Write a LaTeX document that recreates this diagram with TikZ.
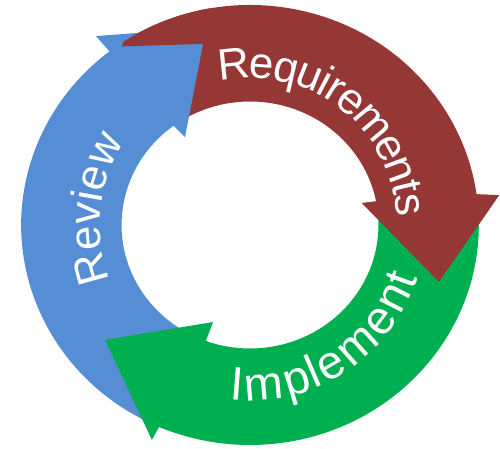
\documentclass[tikz,border=0pt]{standalone}
\usepackage{fontspec}
\newfontfamily\arialf{Liberation Sans}
\usetikzlibrary{decorations.text}
\definecolor{bluec}{HTML}{558ED5}
\definecolor{redc}{HTML}{953735}
\definecolor{greenc}{HTML}{00B050}
\tikzset{
  lbl/.style={decorate, decoration={text along path, text align=center, raise=#1}},
}
\newcommand{\lblfont}[1]{\arialf\fontsize{#1}{#1}\selectfont\color{white}}
\begin{document}
\begin{tikzpicture}
\useasboundingbox (0,0) rectangle (500pt,449pt);
\begin{scope}[shift={(250pt,224pt)}, xscale=1.04]
  % red arrow (Requirements)
  \fill[redc] (125:220pt) arc[start angle=125, end angle=8, radius=220pt]
     -- (7.1:241.3pt) -- (-17.4:190.4pt) -- (11.5:109.9pt) -- (11:123.5pt)
     arc[start angle=11, end angle=125, radius=123.5pt] -- cycle;
  % blue arrow (Review)
  \fill[bluec] (251:220pt) arc[start angle=251, end angle=127.9, radius=220pt]
     -- (128.1:240.1pt) -- (106.4:204.3pt) -- (104:186.6pt) -- (125.4:107.9pt)
     -- (126.5:123.5pt) arc[start angle=126.5, end angle=251, radius=123.5pt] -- cycle;
  % red tail over blue head
  \fill[redc] (124.6:217pt) -- (123.5:220pt) arc[start angle=123.5, end angle=100, radius=220pt]
     -- (104:186.6pt) -- cycle;
  % green arrow (Implement)
  \fill[greenc] (4:220pt) arc[start angle=4, end angle=-113.4, radius=220pt]
     -- (246.3:234.7pt) -- (219.5:180.7pt) -- (249.9:103.3pt) -- (-110.1:123.5pt)
     arc[start angle=-110.1, end angle=4, radius=123.5pt] -- cycle;
  % red head over green tail
  \fill[redc] (8:220pt) -- (7.1:241.3pt) -- (-17.4:190.4pt) -- (11.5:109.9pt) -- (11:123.5pt) -- cycle;
\end{scope}
\begin{scope}[shift={(250pt,224pt)}]
  \path[lbl=-13pt, decoration={text={|\lblfont{44pt}|Requirements}}]
     (122.5:160pt) arc[start angle=122.5, end angle=-17.5, radius=160pt];
  \path[lbl=0pt, decoration={text={|\lblfont{44pt}|Review}}]
     (234:150pt) arc[start angle=234, end angle=114, radius=150pt];
  \path[lbl=-18pt, decoration={text={|\lblfont{47pt}|Implement}}]
     (237.85:157.7pt) arc[start angle=237.85, end angle=367.85, radius=157.7pt];
\end{scope}
\end{tikzpicture}
\end{document}
